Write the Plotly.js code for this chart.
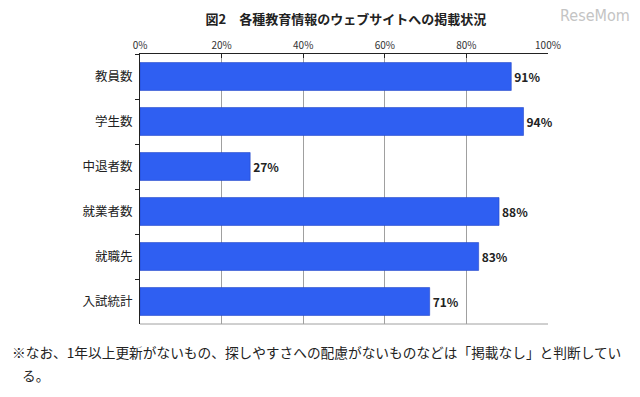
<!DOCTYPE html>
<html>
<head>
<meta charset="utf-8">
<script src="https://cdn.plot.ly/plotly-3.0.1.min.js"></script>
<style>html,body{margin:0;padding:0;background:#fff;}</style>
</head>
<body>
<div id="chart" style="width:640px;height:397px;"></div>
<script>
var categories = ["教員数", "学生数", "中退者数", "就業者数", "就職先", "入試統計"];
var values = [91, 94, 27, 88, 83, 71];
var tickVals = [0, 20, 40, 60, 80, 100];
var tickText = ["0%", "20%", "40%", "60%", "80%", "100%"];
var titleText = "図2　各種教育情報のウェブサイトへの掲載状況";
var noteLine1 = "※なお、1年以上更新がないもの、探しやすさへの配慮がないものなどは「掲載なし」と判断してい";
var noteLine2 = "る。";

var jp = '"Noto Sans CJK JP", "Noto Sans", sans-serif';

var trace = {
  type: "bar",
  orientation: "h",
  y: categories,
  x: values,
  marker: {color: "#2f5ff2", line: {color: "#2446c8", width: 0.6}},
  text: values.map(function(v){ return "<b>" + v + "%</b>"; }),
  textposition: "outside",
  textfont: {family: jp, size: 12, color: "#222"},
  cliponaxis: false,
  hoverinfo: "none"
};

var layout = {
  width: 640, height: 397,
  margin: {l: 140, r: 92, t: 54, b: 73},
  paper_bgcolor: "#fff", plot_bgcolor: "#fff",
  showlegend: false,
  bargap: 0.38,
  font: {family: jp, color: "#222"},
  xaxis: {
    side: "top", range: [0, 100],
    tickvals: tickVals, ticktext: tickText,
    tickfont: {family: jp, size: 10, color: "#333"},
    showgrid: true, gridcolor: "#a0a0a0", gridwidth: 1,
    showline: true, linecolor: "#222", linewidth: 1,
    ticks: "inside", ticklen: 4, tickcolor: "#222",
    zeroline: false, fixedrange: true
  },
  yaxis: {
    autorange: "reversed",
    tickfont: {family: jp, size: 12.5, color: "#222"},
    showline: true, linecolor: "#222", linewidth: 1,
    ticks: "outside", tickson: "boundaries", ticklen: 4, tickcolor: "#222",
    ticklabelstandoff: 4,
    showgrid: false, zeroline: false, fixedrange: true
  },
  shapes: [
    {type: "line", xref: "paper", yref: "paper", x0: 0, x1: 1, y0: 0, y1: 0,
     line: {color: "#a0a0a0", width: 1}, layer: "below"}
  ],
  title: {
    text: "<b>" + titleText + "</b>",
    font: {family: jp, size: 13, color: "#222"},
    x: 323 / 640, xref: "paper", xanchor: "center", y: 0.95, yanchor: "middle"
  },
  annotations: [
    {text: noteLine1, xref: "paper", yref: "paper", x: -0.319, y: -0.104, xanchor: "left", yanchor: "middle",
     showarrow: false, font: {family: jp, size: 13.7, color: "#222"}},
    {text: noteLine2, xref: "paper", yref: "paper", x: -0.294, y: -0.189, xanchor: "left", yanchor: "middle",
     showarrow: false, font: {family: jp, size: 13.7, color: "#222"}},
    {text: "ReseMom", xref: "paper", yref: "paper", x: 1.206, y: 1.144, xanchor: "right", yanchor: "middle",
     showarrow: false, font: {family: '"DejaVu Sans Condensed", "DejaVu Sans", sans-serif', size: 16, color: "#c4c4c4"}}
  ]
};

Plotly.newPlot("chart", [trace], layout, {displayModeBar: false, staticPlot: true});
</script>
</body>
</html>
